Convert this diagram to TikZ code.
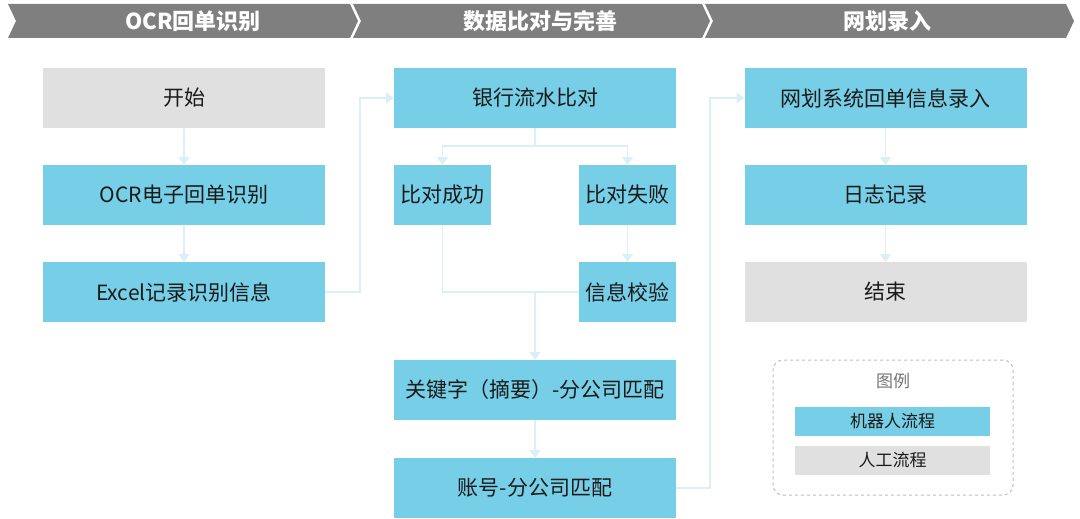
\documentclass[tikz,border=0pt]{standalone}
\usepackage{fontspec}
\setmainfont{Noto Sans CJK SC}
\usetikzlibrary{arrows.meta,positioning}
\definecolor{robotblue}{HTML}{77CFE7}
\definecolor{manualgray}{HTML}{E0E0E0}
\definecolor{headgray}{HTML}{7F7F7F}
\definecolor{linkblue}{HTML}{DCEFF7}
\definecolor{inkdark}{HTML}{1A1A1A}
\definecolor{keyframe}{HTML}{BDBDBD}

\begin{document}
\begin{tikzpicture}[x=1pt, y=-1pt,
  font=\fontsize{21}{25}\selectfont,
  box/.style={align=center, inner sep=0pt, outer sep=0pt,
              minimum height=60pt, text=inkdark},
  robot/.style={box, fill=robotblue},
  manual/.style={box, fill=manualgray},
  wide/.style={minimum width=282pt},
  narrow/.style={minimum width=97pt},
  ln/.style={line width=1.6pt, linkblue},
  ar/.style={ln, -{Triangle[length=8pt, width=11pt]}},
  phasetext/.style={text=white, font=\fontsize{22}{26}\selectfont\bfseries},
  keyitem/.style={box, minimum width=195pt, minimum height=29pt,
                  font=\fontsize{17}{20}\selectfont},
]
\useasboundingbox (0,0) rectangle (1080,519);

% ---------------- phase banner ----------------
\fill[headgray] (8,4) -- (350,4) -- (358,21) -- (350,38) -- (8,38) -- (16,21) -- cycle;
\fill[headgray] (353,4) -- (702,4) -- (710,21) -- (702,38) -- (353,38) -- (361,21) -- cycle;
\fill[headgray] (705,4) -- (1066,4) -- (1074,21) -- (1066,38) -- (705,38) -- (713,21) -- cycle;
\node[phasetext] (ph1) at (193,21) {OCR回单识别};
\node[phasetext] (ph2) at (540,21) {数据比对与完善};
\node[phasetext] (ph3) at (887,21) {网划录入};

% ---------------- OCR ----------------
\node[manual, wide] (start) at (184,98) {开始};
\node[robot, wide, below=37pt of start] (ocr) {OCR电子回单识别};
\node[robot, wide, below=37pt of ocr] (excel) {Excel记录识别信息};

\draw[ar] (start) -- (ocr);
\draw[ar] (ocr) -- (excel);

% ---------------- comparison ----------------
\node[robot, wide] (bank) at (535,98) {银行流水比对};
\node[robot, narrow] (ok) at (442.5,195) {比对成功};
\node[robot, narrow] (fail) at (627.5,195) {比对失败};
\node[robot, narrow, below=37pt of fail] (check) {信息校验};
\node[robot, wide] (keyword) at (535,390) {关键字（摘要）-分公司匹配};
\node[robot, wide, below=38pt of keyword] (account) {账号-分公司匹配};

\coordinate (j1) at (360,0);
\draw[ar] (excel.east) -- (excel.east -| j1) -- (bank.west -| j1) -- (bank.west);
\coordinate (split) at (535,146);
\draw[ln] (bank.south) -- (split);
\draw[ar] (split) -| (ok.north);
\draw[ar] (split) -| (fail.north);
\draw[ar] (fail) -- (check);
\draw[ln] (ok.south) |- (check.west);
\coordinate (merge) at (keyword.north |- check.west);
\draw[ar] (merge) -- (keyword.north);
\draw[ar] (keyword) -- (account);

% ---------------- entry ----------------
\node[robot, wide] (entry) at (885.5,98) {网划系统回单信息录入};
\node[robot, wide, below=37pt of entry] (log) {日志记录};
\node[manual, wide, below=37pt of log] (finish) {结束};

\coordinate (j2) at (710,0);
\draw[ar] (account.east) -- (account.east -| j2) -- (entry.west -| j2) -- (entry.west);
\draw[ar] (entry) -- (log);
\draw[ar] (log) -- (finish);

% ---------------- legend ----------------
\node[draw=keyframe, dashed, line width=1pt, rounded corners=10pt,
      minimum width=240pt, minimum height=135pt] (legend) at (893,427.5) {};
\node[text=black!55, font=\fontsize{17}{20}\selectfont] (legendtitle) at (893,381) {图例};
\node[keyitem, fill=robotblue] (keyrobot) at (892.5,421.5) {机器人流程};
\node[keyitem, fill=manualgray] (keymanual) at (892.5,460.5) {人工流程};
\end{tikzpicture}
\end{document}
